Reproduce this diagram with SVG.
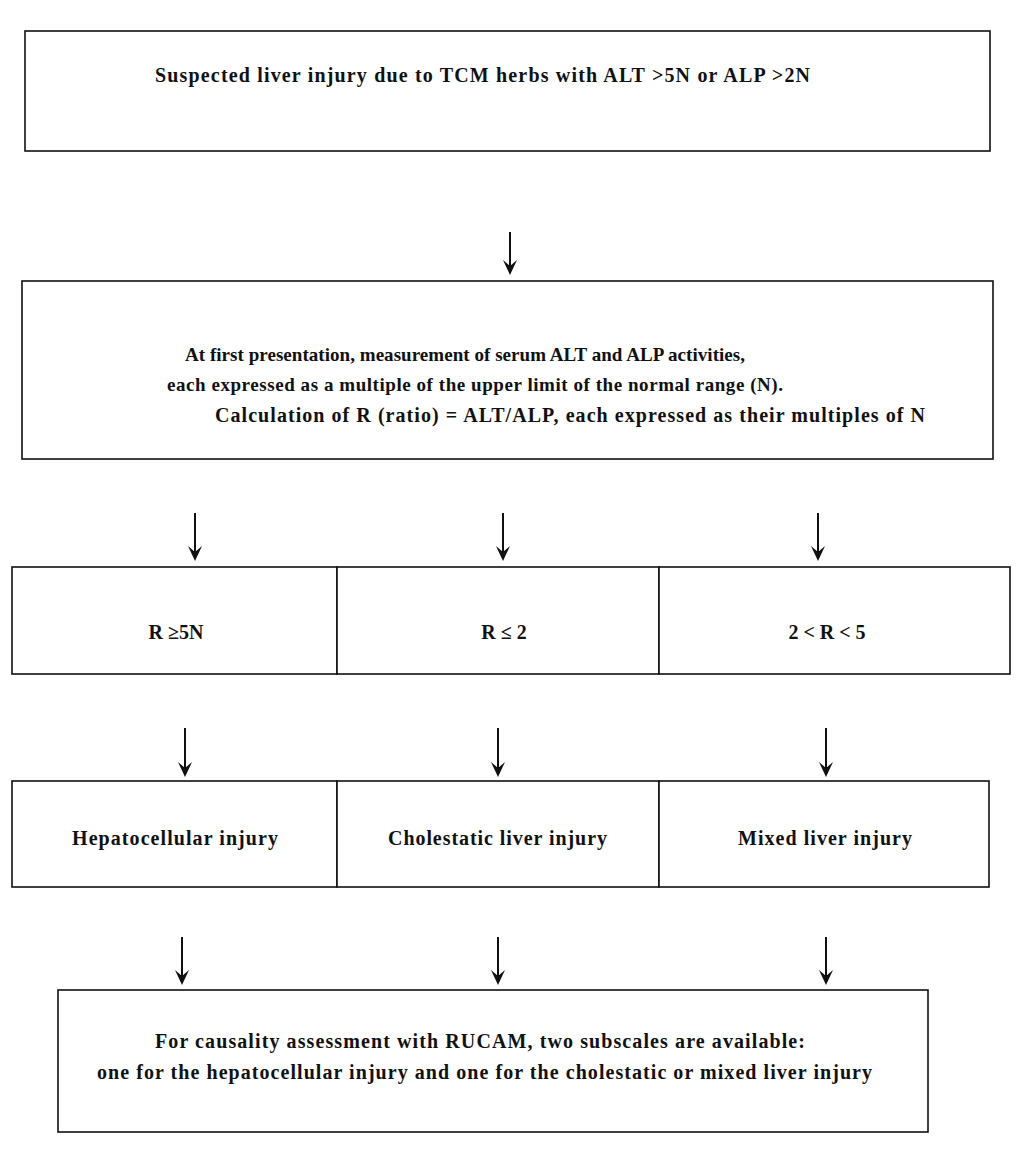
<svg xmlns="http://www.w3.org/2000/svg" width="1024" height="1149" viewBox="0 0 1024 1149">
<style>
.box{fill:#fff;stroke:#111;stroke-width:1.6}
.t{font-family:"Liberation Serif","Times New Roman",serif;font-weight:bold;font-size:20px;fill:#111}
.s{font-size:19px}
.m{text-anchor:middle}
.c{stroke:#111;stroke-width:2;fill:none}
</style>
<defs>
<marker id="ah" markerUnits="userSpaceOnUse" markerWidth="24" markerHeight="24" refX="0" refY="0" viewBox="-12 -16 24 18" orient="auto" overflow="visible">
<path d="M2 0 L-13 -7 L-7 0 L-13 7 Z" fill="#111"/>
</marker>
</defs>
<rect width="1024" height="1149" fill="#fff"/>
<g id="n1">
<rect class="box" x="25" y="31" width="965" height="120"/>
<text class="t" x="155" y="82" textLength="655" lengthAdjust="spacing">Suspected liver injury due to TCM herbs with ALT &gt;5N or ALP &gt;2N</text>
</g>
<g id="n2">
<rect class="box" x="22" y="281" width="971" height="178"/>
<text class="t s" x="185" y="361" textLength="560" lengthAdjust="spacing">At first presentation, measurement of serum ALT and ALP activities,</text>
<text class="t s" x="167" y="391" textLength="616" lengthAdjust="spacing">each expressed as a multiple of the upper limit of the normal range (N).</text>
<text class="t" x="215" y="422" textLength="710" lengthAdjust="spacing">Calculation  of R (ratio) = ALT/ALP, each expressed as their multiples  of N</text>
</g>
<g id="n3a">
<rect class="box" x="12" y="567" width="325" height="107"/>
<text class="t m" x="176" y="639">R ≥5N</text>
</g>
<g id="n3b">
<rect class="box" x="337" y="567" width="322" height="107"/>
<text class="t m" x="504" y="639">R ≤ 2</text>
</g>
<g id="n3c">
<rect class="box" x="659" y="567" width="351" height="107"/>
<text class="t m" x="827" y="639">2 &lt; R &lt; 5</text>
</g>
<g id="n4a">
<rect class="box" x="12" y="781" width="325" height="106"/>
<text class="t" x="72" y="845" textLength="206" lengthAdjust="spacing">Hepatocellular injury</text>
</g>
<g id="n4b">
<rect class="box" x="337" y="781" width="322" height="106"/>
<text class="t" x="388" y="845" textLength="219" lengthAdjust="spacing">Cholestatic liver injury</text>
</g>
<g id="n4c">
<rect class="box" x="659" y="781" width="330" height="106"/>
<text class="t" x="738" y="845" textLength="174" lengthAdjust="spacing">Mixed liver injury</text>
</g>
<g id="n5">
<rect class="box" x="58" y="990" width="870" height="142"/>
<text class="t" x="155" y="1048" textLength="650" lengthAdjust="spacing">For causality assessment with RUCAM, two subscales are available:</text>
<text class="t" x="97" y="1079" textLength="775" lengthAdjust="spacing">one for the hepatocellular injury and one for the cholestatic or mixed liver injury</text>
</g>
<g id="connectors">
<line class="c" x1="510" y1="232" x2="510" y2="273" marker-end="url(#ah)"/>
<line class="c" x1="195" y1="513" x2="195" y2="559" marker-end="url(#ah)"/>
<line class="c" x1="503" y1="513" x2="503" y2="559" marker-end="url(#ah)"/>
<line class="c" x1="818" y1="513" x2="818" y2="559" marker-end="url(#ah)"/>
<line class="c" x1="185" y1="728" x2="185" y2="775" marker-end="url(#ah)"/>
<line class="c" x1="498" y1="728" x2="498" y2="775" marker-end="url(#ah)"/>
<line class="c" x1="826" y1="728" x2="826" y2="775" marker-end="url(#ah)"/>
<line class="c" x1="182" y1="937" x2="182" y2="983" marker-end="url(#ah)"/>
<line class="c" x1="498" y1="937" x2="498" y2="983" marker-end="url(#ah)"/>
<line class="c" x1="826" y1="937" x2="826" y2="983" marker-end="url(#ah)"/>
</g>
</svg>
